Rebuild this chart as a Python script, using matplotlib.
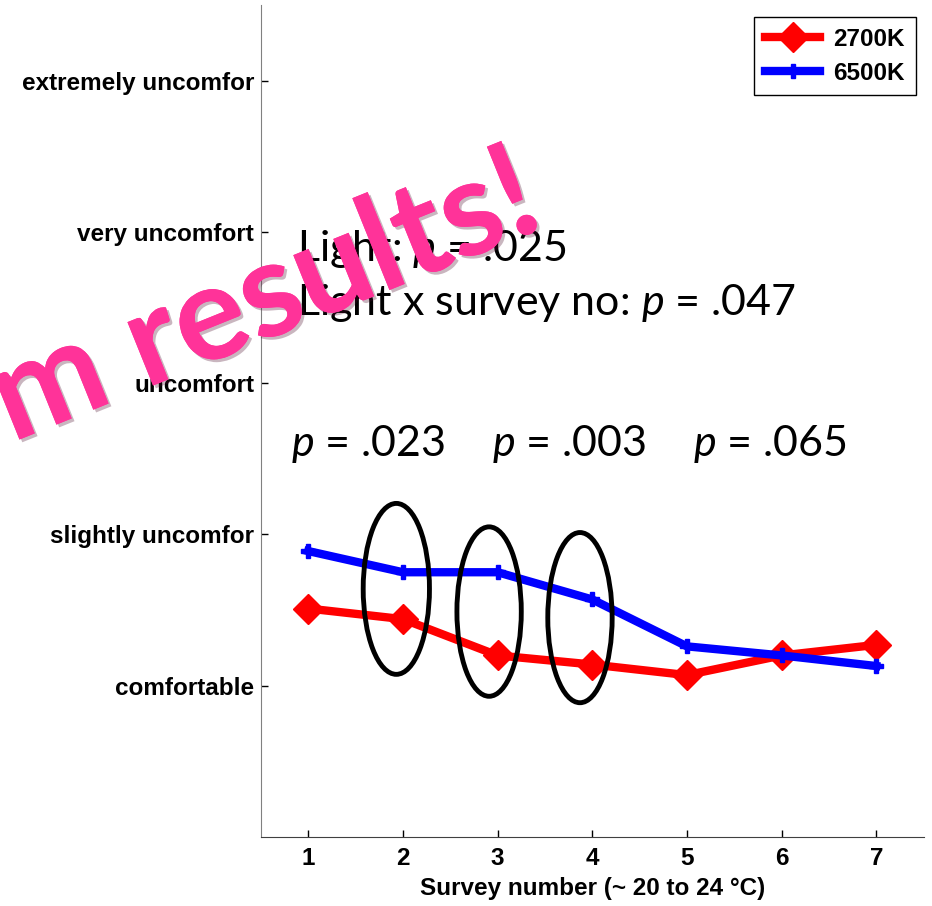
import matplotlib.pyplot as plt
import matplotlib.patheffects as pe
from matplotlib.patches import Ellipse

survey = [1, 2, 3, 4, 5, 6, 7]
warm_2700 = [1.51, 1.44, 1.20, 1.14, 1.07, 1.20, 1.27]
cool_6500 = [1.89, 1.75, 1.75, 1.57, 1.26, 1.20, 1.13]
comfort_levels = [1, 2, 3, 4, 5]
comfort_labels = ["comfortable", "slightly uncomfor", "uncomfort",
                  "very uncomfort", "extremely uncomfor"]

label_font = ["Liberation Sans", "DejaVu Sans"]
note_font = ["Lato", "DejaVu Sans"]

plt.rcParams["mathtext.fontset"] = "custom"
plt.rcParams["mathtext.it"] = "Lato:italic"
plt.rcParams["mathtext.rm"] = "Lato"

fig = plt.figure(figsize=(9.32, 9.06), dpi=100)
ax = fig.add_axes([0.280, 0.0762, 0.711, 0.9183])

ax.plot(survey, warm_2700, color="red", lw=6, marker="D", ms=15,
        label="2700K", zorder=3)
ax.plot(survey, cool_6500, color="blue", lw=6, marker="P", ms=10,
        label="6500K", zorder=3)

ax.set_xlim(0.5, 7.5)
ax.set_ylim(0, 5.5)
ax.set_xticks(survey)
ax.set_yticks(comfort_levels)
ax.set_yticklabels(comfort_labels)
for t in ax.get_xticklabels() + ax.get_yticklabels():
    t.set_fontfamily(label_font)
    t.set_fontweight("bold")
    t.set_fontsize(17.5)
ax.tick_params(direction="in", length=5, width=1)
ax.tick_params(axis="y", pad=5)
ax.tick_params(axis="x", pad=7)
ax.set_xlabel("Survey number (~ 20 to 24 °C)", family=label_font,
              fontweight="bold", fontsize=17.5, labelpad=5)

ax.spines["top"].set_visible(False)
ax.spines["right"].set_visible(False)
ax.spines["left"].set_color("#808080")
ax.spines["bottom"].set_color("#404040")

# circled surveys with significant differences
for cx, cy, w, h in [(1.93, 1.64, 0.70, 1.13), (2.91, 1.49, 0.68, 1.12),
                     (3.87, 1.45, 0.68, 1.125)]:
    ax.add_patch(Ellipse((cx, cy), w, h, fill=False, ec="black", lw=3.5,
                         zorder=4))

ax.text(0.88, 3.89, "Light: $\\it{p}$ = .025", family=note_font,
        fontsize=31, va="center")
ax.text(0.88, 3.53, "Light x survey no: $\\it{p}$ = .047", family=note_font,
        fontsize=31, va="center")
for x0, txt in [(0.82, ".023"), (2.94, ".003"), (5.06, ".065")]:
    ax.text(x0, 2.60, "$\\it{p}$ = " + txt, family=note_font, fontsize=31,
            va="center")

leg = ax.legend(loc="upper right", bbox_to_anchor=(0.988, 0.986),
                borderaxespad=0, fancybox=False, edgecolor="black",
                framealpha=1, handlelength=2.25, handletextpad=0.55,
                labelspacing=0.45, borderpad=0.45,
                prop={"family": label_font, "weight": "bold", "size": 17.5})
leg.get_frame().set_linewidth(1)

fig.text(548 / 932, 1 - 226 / 906, "m results!", family=note_font,
         fontweight="bold", fontsize=96, color="#ff3399", rotation=22,
         rotation_mode="anchor", ha="right", va="baseline", zorder=10,
         path_effects=[pe.withSimplePatchShadow(offset=(2, -2), alpha=0.3),
                       pe.Normal()])

fig.savefig("out.png", dpi=100)
